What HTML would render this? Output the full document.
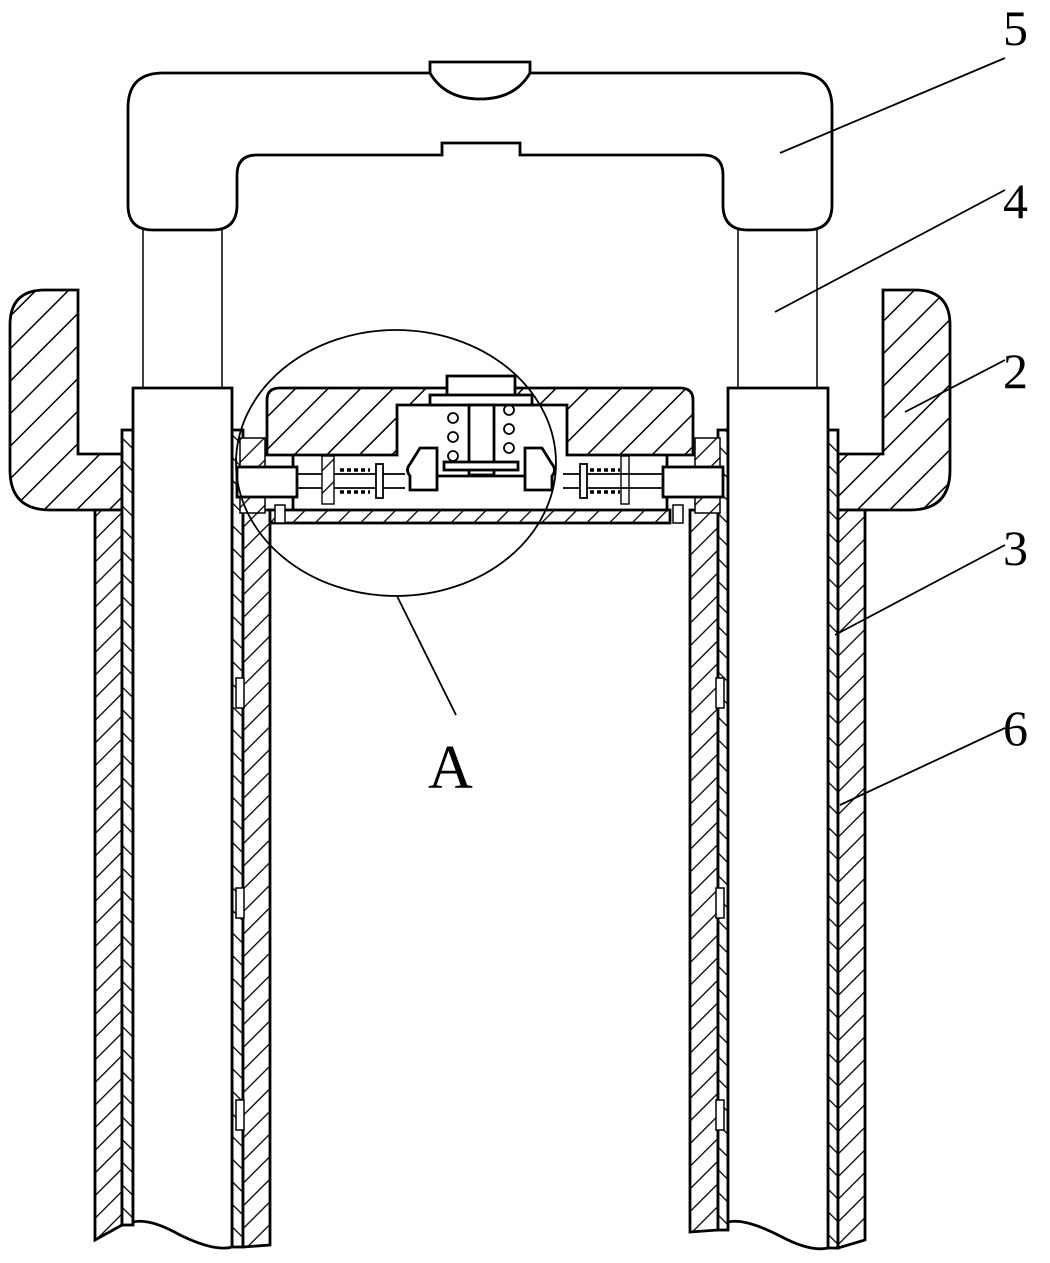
<!DOCTYPE html>
<html><head><meta charset="utf-8"><style>
html,body{margin:0;padding:0;background:#fff;}
svg{display:block;}
text{font-family:"Liberation Serif",serif;fill:#000;}
</style></head><body>
<svg width="1050" height="1263" viewBox="0 0 1050 1263" xmlns="http://www.w3.org/2000/svg">
<defs>
<pattern id="h" patternUnits="userSpaceOnUse" width="23" height="23" patternTransform="rotate(45)">
<rect width="23" height="23" fill="#fff"/><line x1="0" y1="0" x2="0" y2="23" stroke="#000" stroke-width="3"/>
</pattern>
<pattern id="hs" patternUnits="userSpaceOnUse" width="16" height="16" patternTransform="rotate(45)">
<rect width="16" height="16" fill="#fff"/><line x1="0" y1="0" x2="0" y2="16" stroke="#000" stroke-width="2.6"/>
</pattern>
<pattern id="hb" patternUnits="userSpaceOnUse" width="16" height="16" patternTransform="rotate(-45)">
<rect width="16" height="16" fill="#fff"/><line x1="0" y1="0" x2="0" y2="16" stroke="#000" stroke-width="2.6"/>
</pattern>
</defs>
<g stroke="#000" fill="none" stroke-width="2.8">
<path d="M163,73 H797 Q832,73 832,108 V205 Q832,230 807,230 H748 Q723,230 723,205 V175 Q723,155 703,155 H520 V143 H442 V155 H257 Q237,155 237,175 V205 Q237,230 212,230 H153 Q128,230 128,205 V108 Q128,73 163,73 Z" fill="#fff"/>
<path d="M430,62 H530 V73 Q515,99 480,99 Q445,99 430,73 Z" fill="#fff"/>
<line x1="143" y1="230" x2="143" y2="388" stroke-width="1.5"/>
<line x1="222" y1="230" x2="222" y2="388" stroke-width="1.5"/>
<line x1="738" y1="230" x2="738" y2="388" stroke-width="1.5"/>
<line x1="817" y1="230" x2="817" y2="388" stroke-width="1.5"/>
<path d="M45,290 H78 V454 H122 V510 H50 Q10,510 10,470 V325 Q10,290 45,290 Z" fill="url(#h)"/>
<path d="M915,290 H883 V454 H838 V510 H910 Q950,510 950,470 V325 Q950,290 915,290 Z" fill="url(#h)"/>
<path d="M95,510 H122 V1225 L95,1240 Z" fill="url(#hs)"/>
<rect x="122" y="430" width="11" height="795" fill="url(#hb)"/>
<rect x="232" y="430" width="11" height="817" fill="url(#hb)"/>
<path d="M243,510 H270 V1245 L243,1247 Z" fill="url(#hs)"/>
<path d="M690,510 H718 V1230 L690,1232 Z" fill="url(#hs)"/>
<rect x="718" y="430" width="10" height="800" fill="url(#hb)"/>
<rect x="828" y="430" width="10" height="818" fill="url(#hb)"/>
<path d="M838,510 H865 V1240 L838,1248 Z" fill="url(#hs)"/>
<g stroke-width="1.5" fill="#fff">
<rect x="236" y="678" width="8" height="30"/>
<rect x="236" y="888" width="8" height="30"/>
<rect x="236" y="1100" width="8" height="30"/>
<rect x="716" y="678" width="8" height="30"/>
<rect x="716" y="888" width="8" height="30"/>
<rect x="716" y="1100" width="8" height="30"/>
</g>
<path d="M133,388 H232 V1247 Q215,1252 180,1235 Q150,1218 133,1222 Z" fill="#fff"/>
<path d="M728,388 H828 V1248 Q810,1252 780,1236 Q745,1218 728,1222 Z" fill="#fff"/>
<path d="M280,388 H680 Q693,388 693,400 V455 H567 V405 H515 V395 H447 V405 H397 V455 H267 V400 Q267,388 280,388 Z" fill="url(#h)"/>
<rect x="240" y="438" width="25" height="75" fill="url(#hs)" stroke-width="1.5"/>
<rect x="695" y="438" width="25" height="75" fill="url(#hs)" stroke-width="1.5"/>
<path d="M293,455 V510 M667,455 V510" />
<rect x="270" y="510" width="400" height="13" fill="url(#hs)"/>
<rect x="447" y="376" width="68" height="22" fill="#fff"/>
<rect x="430" y="395" width="102" height="10" fill="#fff"/>
<rect x="469" y="405" width="25" height="70" fill="#fff"/>
<rect x="444" y="462" width="74" height="8" fill="#fff"/>
<path d="M410,476 H552" />
<path d="M420,448 H437 V490 H410 V476 Q405,470 410,464 Z" fill="#fff"/>
<path d="M542,448 H525 V490 H552 V476 Q557,470 552,464 Z" fill="#fff"/>
<g stroke-width="1.8">
<circle cx="453" cy="418" r="5"/><circle cx="453" cy="437" r="5"/><circle cx="453" cy="456" r="5"/>
<circle cx="509" cy="410" r="5"/><circle cx="509" cy="429" r="5"/><circle cx="509" cy="448" r="5"/>
</g>
<rect x="237" y="467" width="60" height="30" fill="#fff"/>
<rect x="663" y="467" width="60" height="30" fill="#fff"/>
<path d="M297,474 H405 M297,488 H405 M563,474 H663 M563,488 H663" stroke-width="1.8"/>
<rect x="376" y="464" width="7" height="34" fill="#fff" stroke-width="1.8"/>
<rect x="580" y="464" width="7" height="34" fill="#fff" stroke-width="1.8"/>
<path d="M340,470 h30 M340,492 h30 M590,470 h30 M590,492 h30" stroke-width="3.5" stroke-dasharray="4 3"/>
<rect x="322" y="456" width="12" height="48" fill="url(#hs)" stroke-width="1.4"/>
<rect x="621" y="456" width="8" height="48" stroke-width="1.4"/>
<rect x="275" y="505" width="10" height="18" fill="#fff" stroke-width="1.5"/>
<rect x="673" y="505" width="10" height="18" fill="#fff" stroke-width="1.5"/>
<ellipse cx="396" cy="463" rx="160" ry="133" stroke-width="1.8"/>
<line x1="397" y1="596" x2="456" y2="715" stroke-width="1.8"/>
<g stroke-width="1.8">
<line x1="780" y1="153" x2="1005" y2="58"/>
<line x1="775" y1="312" x2="1005" y2="190"/>
<line x1="905" y1="412" x2="1005" y2="360"/>
<line x1="835" y1="635" x2="1005" y2="545"/>
<line x1="840" y1="805" x2="1005" y2="728"/>
</g>
</g>
<g font-size="50">
<text x="1003" y="45">5</text>
<text x="1003" y="218">4</text>
<text x="1003" y="388">2</text>
<text x="1003" y="565">3</text>
<text x="1003" y="745">6</text>
<text x="428" y="788" font-size="62">A</text>
</g>
</svg>
</body></html>
